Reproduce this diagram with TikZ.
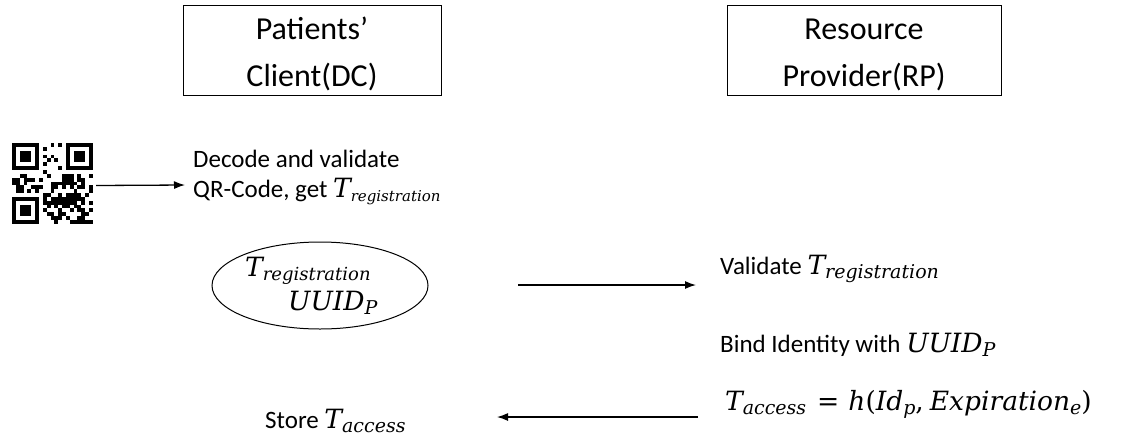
\documentclass[tikz,border=0pt]{standalone}
\usepackage{fontspec}
\setmainfont{Carlito}
\newfontfamily\symfont{DejaVu Serif}
\usetikzlibrary{arrows.meta,shapes.geometric}
% italic symbol with an italic subscript; optional argument = subscript size
\newcommand\isym[3][19]{{\symfont\itshape\fontsize{26.5}{26.5}\selectfont #2\raisebox{-0.32ex}{\fontsize{#1}{#1}\selectfont #3}}}
\newcommand\iup[1]{{\symfont\fontsize{26.5}{26.5}\selectfont #1}}
\newcommand\ivar[1]{{\symfont\itshape\fontsize{26.5}{26.5}\selectfont #1}}
\tikzset{
  party/.style={draw,line width=1pt,minimum height=90pt,align=center,font=\fontsize{32}{47}\selectfont,inner sep=2pt},
  msg/.style={anchor=base west,inner sep=0pt,font=\fontsize{25}{28}\selectfont},
  flow/.style={line width=1.3pt,-{Latex[length=11pt,width=8pt]}},
  qrmod/.style={fill=black}
}
\begin{document}
\begin{tikzpicture}[x=1pt,y=-1pt]
\useasboundingbox (0,0) rectangle (1129,440);

% participants
\node[party,minimum width=258pt] (dc) at (312,50) {\rule{0pt}{31pt}Patients’\\Client(DC)};
\node[party,minimum width=274pt] (rp) at (864,50) {\rule{0pt}{31pt}Resource\\Provider(RP)};

% QR code, 21 x 21 modules
\begin{scope}[shift={(12,143)}]
  \def\m{3.85}
  \foreach \ox/\oy in {0/0,14/0,0/14}{
    \fill (\ox*\m,\oy*\m) rectangle ++(7*\m,7*\m);
    \fill[white] (\ox*\m+\m,\oy*\m+\m) rectangle ++(5*\m,5*\m);
    \fill (\ox*\m+2*\m,\oy*\m+2*\m) rectangle ++(3*\m,3*\m);
  }
  \pgfmathsetseed{17}
  \foreach \i in {0,...,20}{
    \foreach \j in {0,...,20}{
      \pgfmathtruncatemacro{\skip}{((\i<8)&&(\j<8)) || ((\i>12)&&(\j<8)) || ((\i<8)&&(\j>12)) ? 1 : 0}
      \pgfmathtruncatemacro{\on}{rnd<0.5 ? 1 : 0}
      \ifnum\skip=0 \ifnum\on=1
        \fill[qrmod] (\i*\m,\j*\m) rectangle ++(\m,\m);
      \fi\fi
    }
  }
\end{scope}
\node[inner sep=0pt,minimum width=81pt,minimum height=81pt] (qr) at (52.5,183.5) {};
\coordinate (decIn) at (185,185);

% client side
\node[msg] (dec1) at (193,167) {Decode and validate};
\node[msg] (dec2) at (193,197) {QR-Code, get \isym[15]{T}{registration}};
\node[draw,ellipse,line width=1pt,minimum width=216pt,minimum height=87pt,inner sep=0pt] (tok) at (320,285.5) {};
\node[inner sep=0pt,anchor=base west] (tokT) at (245,276) {\isym[18]{T}{registration}};
\node[inner sep=0pt,anchor=base west] (tokU) at (288,310) {\isym{UUID}{P}};
\node[msg] (store) at (265,428) {Store \isym{T}{access}};

% provider side
\node[msg] (val) at (720,274) {Validate \isym{T}{registration}};
\node[msg] (bind) at (720,352) {Bind Identity with \isym{UUID}{P}};
\node[msg] (hash) at (725,410) {\isym{T}{access}\hspace{11pt}\iup{=}\hspace{9pt}\ivar{h}\iup{(}\isym{Id}{p}\iup{,}\hspace{6pt}\isym{Expiration}{e}\iup{)}};

% message arrows
\coordinate (req0) at (518,285);
\coordinate (req1) at (696,285);
\coordinate (rsp0) at (698,417);
\coordinate (rsp1) at (497,417);
\draw[flow] (qr.east) ++(3,2) -- (decIn);
\draw[flow] (req0) -- (req1);
\draw[flow] (rsp0) -- (rsp1);
\end{tikzpicture}
\end{document}
